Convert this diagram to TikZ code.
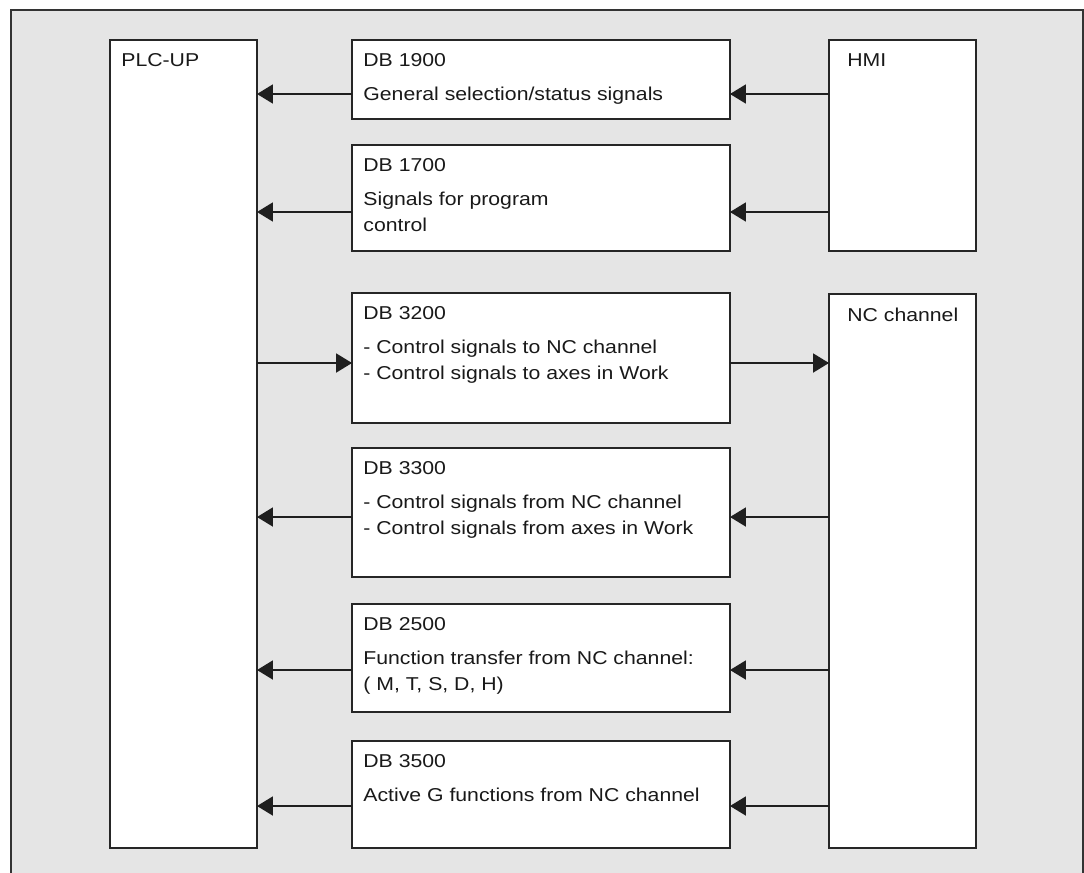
\documentclass[tikz,border=0pt]{standalone}
\usepackage{fontspec}
\setmainfont{Liberation Sans}[FakeStretch=1.14]
\usepackage{xcolor}
\usetikzlibrary{arrows.meta,positioning}

\begin{document}
\begin{tikzpicture}[
  x=0.02cm, y=-0.02cm,
  font=\fontsize{10.6}{14.8}\selectfont,
  >={Triangle[length=0.32cm, width=0.38cm]},
  box/.style   ={rectangle, draw=black!85, fill=white, line width=1.1pt,
                 inner sep=0pt, outer sep=0pt},
  unit/.style  ={box, minimum width=2.94cm},
  dbblk/.style ={box, minimum width=7.56cm},
  lbl/.style   ={anchor=north west, align=left, inner xsep=0.22cm,
                 inner ysep=0.27cm, text=black!90},
  ulbl/.style  ={lbl, inner xsep=0.36cm},
  arr/.style   ={->, line width=1.1pt, draw=black!88},
]

\def\rA{94}
\def\rB{212}
\def\rC{363}
\def\rD{517}
\def\rE{670}
\def\rF{806}

\useasboundingbox (0,0) rectangle (1084,872);

% ---------- frame ----------
\filldraw[fill=black!10, draw=black!80, line width=0.8pt] (11,10) rectangle (1083,890);

% ---------- units (left / right) ----------
\node[unit, minimum height=16.16cm, label={[lbl]north west:PLC-UP}]     (plc) at (183.5,444) {};
\node[unit, minimum height=4.22cm,  label={[ulbl]north west:HMI}]       (hmi) at (902.5,145.5) {};
\node[unit, minimum height=11.08cm, label={[ulbl]north west:NC channel}] (nc)  at (902.5,571) {};

% ---------- data blocks ----------
\node[dbblk, minimum height=1.58cm, label={[lbl]north west:{DB 1900\\[4.5pt]General selection/status signals}}] (db1900) at (541,79.5) {};
\node[dbblk, minimum height=2.12cm, label={[lbl]north west:{DB 1700\\[4.5pt]Signals for program\\control}}] (db1700) at (541,198) {};
\node[dbblk, minimum height=2.60cm, label={[lbl]north west:{DB 3200\\[4.5pt]- Control signals to NC channel\\- Control signals to axes in Work}}] (db3200) at (541,358) {};
\node[dbblk, minimum height=2.58cm, label={[lbl]north west:{DB 3300\\[4.5pt]- Control signals from NC channel\\- Control signals from axes in Work}}] (db3300) at (541,512.5) {};
\node[dbblk, minimum height=2.16cm, label={[lbl]north west:{DB 2500\\[4.5pt]Function transfer from NC channel:\\( M, T, S, D, H)}}] (db2500) at (541,658) {};
\node[dbblk, minimum height=2.14cm, label={[lbl]north west:{DB 3500\\[4.5pt]Active G functions from NC channel}}] (db3500) at (541,794.5) {};

% ---------- arrows ----------
\draw[arr] (hmi.west |- 0,\rA) -- (db1900.east |- 0,\rA);
\draw[arr] (db1900.west |- 0,\rA) -- (plc.east |- 0,\rA);
\draw[arr] (hmi.west |- 0,\rB) -- (db1700.east |- 0,\rB);
\draw[arr] (db1700.west |- 0,\rB) -- (plc.east |- 0,\rB);
\draw[arr] (plc.east |- 0,\rC) -- (db3200.west |- 0,\rC);
\draw[arr] (db3200.east |- 0,\rC) -- (nc.west |- 0,\rC);
\draw[arr] (nc.west |- 0,\rD) -- (db3300.east |- 0,\rD);
\draw[arr] (db3300.west |- 0,\rD) -- (plc.east |- 0,\rD);
\draw[arr] (nc.west |- 0,\rE) -- (db2500.east |- 0,\rE);
\draw[arr] (db2500.west |- 0,\rE) -- (plc.east |- 0,\rE);
\draw[arr] (nc.west |- 0,\rF) -- (db3500.east |- 0,\rF);
\draw[arr] (db3500.west |- 0,\rF) -- (plc.east |- 0,\rF);

\end{tikzpicture}
\end{document}
